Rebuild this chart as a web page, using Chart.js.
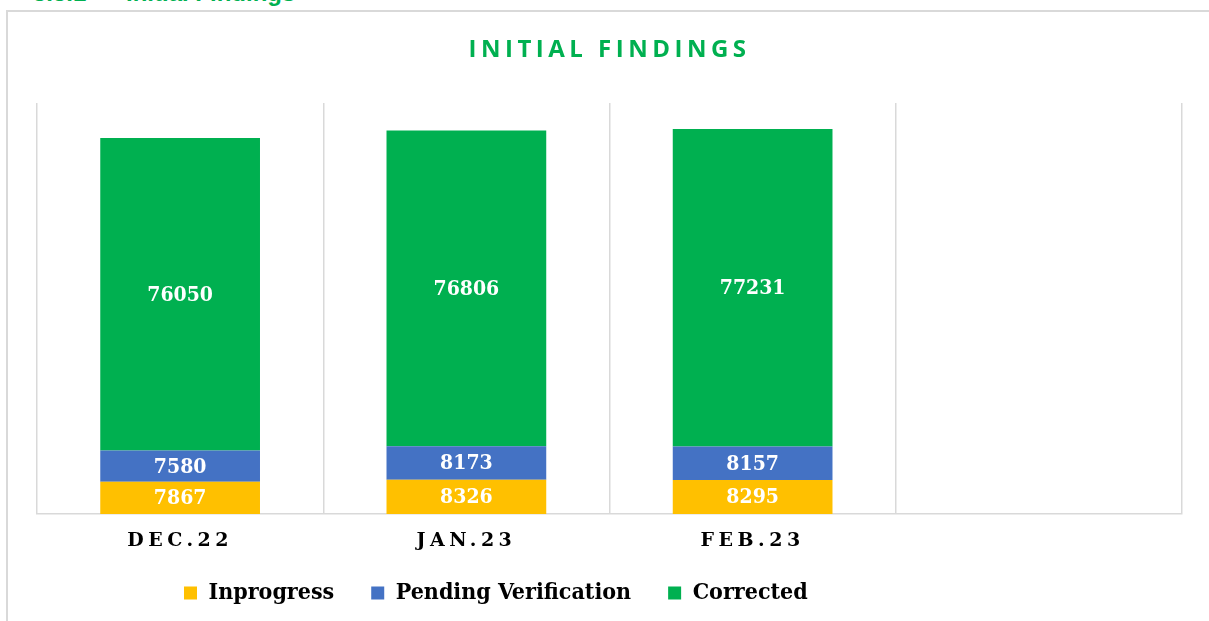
<!DOCTYPE html>
<html>
<head>
<meta charset="utf-8">
<script src="https://cdn.jsdelivr.net/npm/chart.js@4.4.0/dist/chart.umd.min.js"></script>
<style>
  html, body { margin: 0; padding: 0; background: #fff; overflow: hidden; }
  #wrap { position: relative; width: 1209px; height: 621px; }
  .heading { position: absolute; top: -21px; font: bold 24px "Liberation Sans", Arial, sans-serif; color: #00b050; white-space: nowrap; }
  #frame { position: absolute; left: 6px; top: 10px; width: 1300px; height: 700px; border-left: 2px solid #d9d9d9; border-top: 2px solid #d9d9d9; }
  canvas { position: absolute; left: 0; top: 0; }
</style>
</head>
<body>
<div id="wrap">
  <div class="heading" style="left:33px">5.5.1</div>
  <div class="heading" style="left:126px">Initial Findings</div>
  <div id="frame"></div>
  <canvas id="chart" width="1209" height="621"></canvas>
</div>
<script>
// datos del gráfico
const categories = ["DEC.22", "JAN.23", "FEB.23", ""];
const inprogress = [7867, 8326, 8295, null];
const pending = [7580, 8173, 8157, null];
const corrected = [76050, 76806, 77231, null];

const slab = '"DejaVu Serif", serif';
const slabNarrow = '"DejaVu Serif Condensed", "DejaVu Serif", serif';

// espaciado de letras (título y eje x) y posición de la leyenda
const tweaks = {
  id: "tweaks",
  beforeDraw(chart) {
    const x = chart.scales.x;
    if (!x._spaced) {
      const orig = x.drawLabels;
      x.drawLabels = function (area) {
        this.ctx.save();
        this.ctx.letterSpacing = "4.5px";
        orig.call(this, area);
        this.ctx.restore();
      };
      // sin recorte: las etiquetas bajan más que la altura del eje
      x._computeLabelArea = () => undefined;
      x._spaced = true;
    }
    const t = chart.titleBlock;
    if (t && !t._spaced) {
      const origT = t.draw;
      t.draw = function () {
        this.ctx.save();
        this.ctx.letterSpacing = "4.5px";
        origT.call(this);
        this.ctx.restore();
      };
      t._spaced = true;
    }
    // la leyenda empieza en x=184 como en la imagen
    const lg = chart.legend;
    lg.left = 184 - lg.options.labels.padding;
  }
};

// valores dentro de cada segmento
const valueLabels = {
  id: "valueLabels",
  afterDatasetsDraw(chart) {
    const ctx = chart.ctx;
    ctx.save();
    ctx.font = "bold 21px " + slabNarrow;
    ctx.fillStyle = "#fff";
    ctx.textAlign = "center";
    ctx.textBaseline = "middle";
    chart.data.datasets.forEach((ds, i) => {
      chart.getDatasetMeta(i).data.forEach((bar, j) => {
        const v = ds.data[j];
        if (v == null) return;
        const p = bar.getCenterPoint();
        ctx.fillText(String(v), p.x, p.y + 1);
      });
    });
    ctx.restore();
  }
};

new Chart(document.getElementById("chart"), {
  type: "bar",
  data: {
    labels: categories,
    datasets: [
      { label: "Inprogress", data: inprogress, backgroundColor: "#FFC000" },
      { label: "Pending Verification", data: pending, backgroundColor: "#4472C4" },
      { label: "Corrected", data: corrected, backgroundColor: "#00B050" }
    ]
  },
  options: {
    responsive: false,
    animation: false,
    devicePixelRatio: 1,
    categoryPercentage: 1,
    barPercentage: 0.558,
    layout: { padding: { left: 37, right: 27, top: 0, bottom: 6.5 } },
    scales: {
      x: {
        stacked: true,
        grid: { color: "#d9d9d9", lineWidth: 1.5, drawTicks: false, offset: true },
        border: { color: "#d9d9d9", width: 1.5 },
        ticks: { color: "#000", padding: 16, font: { family: slab, size: 19, weight: "bold" } },
        afterFit(s) { s.height = 30.5; }
      },
      y: { stacked: true, display: false, min: 0, max: 100000 }
    },
    plugins: {
      title: {
        display: true,
        text: "INITIAL FINDINGS",
        color: "#00B050",
        font: { family: "Open Sans", size: 24, weight: "bold" },
        padding: { top: 36, bottom: 38.2 }
      },
      legend: {
        position: "bottom",
        align: "start",
        labels: {
          color: "#000",
          boxWidth: 13,
          boxHeight: 13,
          padding: 37,
          font: { family: slabNarrow, size: 23, weight: "bold" }
        }
      },
      tooltip: { enabled: false }
    }
  },
  plugins: [tweaks, valueLabels]
});
</script>
</body>
</html>
